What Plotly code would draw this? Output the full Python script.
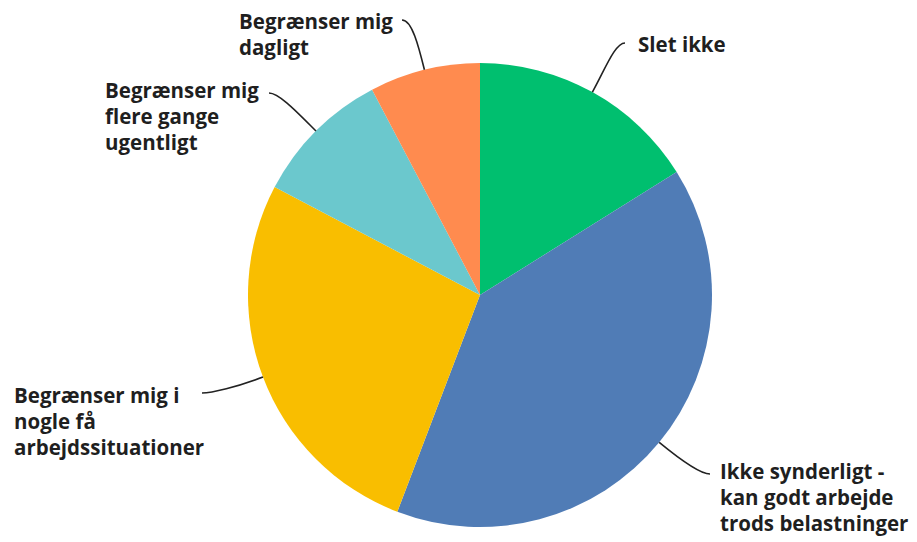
import math
import plotly.graph_objects as go

# ---- data ----
categories = [
    "Slet ikke",
    "Ikke synderligt - kan godt arbejde trods belastninger",
    "Begrænser mig i nogle få arbejdssituationer",
    "Begrænser mig flere gange ugentligt",
    "Begrænser mig dagligt",
]
label_lines = [
    ["Slet ikke"],
    ["Ikke synderligt -", "kan godt arbejde", "trods belastninger"],
    ["Begrænser mig i", "nogle få", "arbejdssituationer"],
    ["Begrænser mig", "flere gange", "ugentligt"],
    ["Begrænser mig", "dagligt"],
]
values = [16.1, 39.7, 26.9, 9.6, 7.7]

# ---- style ----
colors = ["#00BF6F", "#507CB6", "#F9BE00", "#6BC8CD", "#FF8B4F"]
W, H = 917, 542
OFF = 8  # page body margin in the browser
CX, CY, R = 480, 295, 232
# label placement (screen pixels): (line end x, line end y, text side, text x, first line y)
label_pos = [
    (625, 43, "right", 636, 44),
    (710, 474, "right", 718, 471),
    (202, 393, "left", 12, 395),
    (269, 93, "left", 103, 90),
    (402, 20, "left", 237, 21),
]
LINE_H = 26
FONT = dict(family="Open Sans, Noto Sans, sans-serif", size=20.5, color="#1f1f1f")


def px(x):
    return (x - OFF) / W


def py(y):
    return 1 - (y - OFF) / H


fig = go.Figure(
    go.Pie(
        labels=categories,
        values=values,
        sort=False,
        direction="clockwise",
        rotation=0,
        marker=dict(colors=colors, line=dict(width=0)),
        textinfo="none",
        hoverinfo="label+percent",
        domain=dict(
            x=[px(CX - R), px(CX + R)],
            y=[py(CY + R), py(CY - R)],
        ),
        showlegend=False,
    )
)

total = sum(values)
cum = 0.0
shapes = []
annotations = []
for v, lines, pos in zip(values, label_lines, label_pos):
    mid = (cum + v / 2) / total * 2 * math.pi
    cum += v
    dx, dy = math.sin(mid), -math.cos(mid)
    x0, y0 = CX + R * dx, CY + R * dy
    ex, ey, side, tx, ty = pos
    d1 = 0.45 * math.hypot(ex - x0, ey - y0)
    x1, y1 = x0 + d1 * dx, y0 + d1 * dy
    hx = -10 if side == "right" else 10
    x2, y2 = ex + hx, ey
    path = "M {:.5f} {:.5f} C {:.5f} {:.5f} {:.5f} {:.5f} {:.5f} {:.5f}".format(
        px(x0), py(y0), px(x1), py(y1), px(x2), py(y2), px(ex), py(ey)
    )
    shapes.append(
        dict(type="path", path=path, xref="paper", yref="paper",
             line=dict(color="#222222", width=1.6))
    )
    for i, ln in enumerate(lines):
        annotations.append(
            dict(text="<b>" + ln + "</b>", x=px(tx), y=py(ty + i * LINE_H),
                 xref="paper", yref="paper", xanchor="left", yanchor="middle",
                 showarrow=False, font=FONT)
        )

fig.update_layout(
    width=W,
    height=H,
    margin=dict(l=0, r=0, t=0, b=0),
    paper_bgcolor="white",
    plot_bgcolor="white",
    shapes=shapes,
    annotations=annotations,
)

fig.write_html("out.html")
